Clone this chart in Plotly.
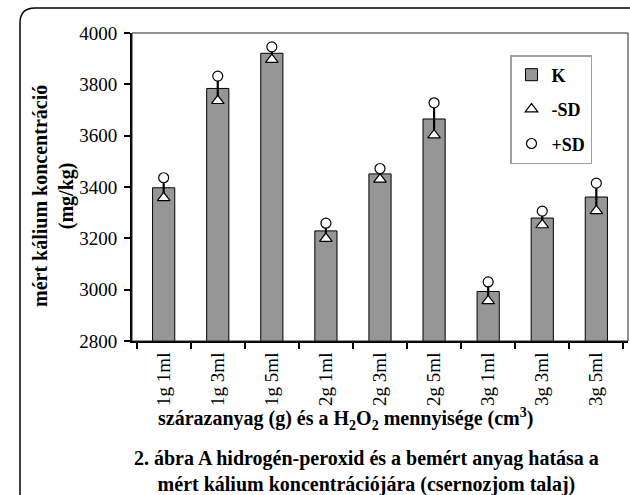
import plotly.graph_objects as go

# Kálium koncentráció (mg/kg) mintánként, szórással
categories = ["1g 1ml", "1g 3ml", "1g 5ml", "2g 1ml", "2g 3ml", "2g 5ml", "3g 1ml", "3g 3ml", "3g 5ml"]
k_mean = [3397, 3784, 3921, 3229, 3451, 3665, 2993, 3279, 3361]
k_sd = [39, 48, 25, 30, 21, 63, 37, 27, 54]

minus_sd = [m - s for m, s in zip(k_mean, k_sd)]
plus_sd = [m + s for m, s in zip(k_mean, k_sd)]

y_ticks = [2800, 3000, 3200, 3400, 3600, 3800, 4000]

FONT = '"Liberation Serif", "Times New Roman", serif'
W_PX, H_PX = 630, 495
L, R, T, B = 132, 2, 33, 154
PW, PH = W_PX - L - R, H_PX - T - B


def px(x):
    return (x - L) / PW


def py(y):
    return (H_PX - B - y) / PH


fig = go.Figure()

fig.add_trace(go.Bar(
    x=categories, y=k_mean, name="<b>K</b>",
    marker=dict(color="#969696", line=dict(color="black", width=1)),
    width=0.41,
    error_y=dict(type="data", array=k_sd, visible=True, thickness=2.2, width=0, color="black"),
    legendgroup="a",
))
fig.add_trace(go.Scatter(
    x=categories, y=minus_sd, mode="markers", name="<b>-SD</b>",
    marker=dict(symbol="triangle-up", size=11, color="white", line=dict(color="black", width=1.2)),
    legendgroup="b",
))
fig.add_trace(go.Scatter(
    x=categories, y=plus_sd, mode="markers", name="<b>+SD</b>",
    marker=dict(symbol="circle", size=10, color="white", line=dict(color="black", width=1.2)),
    legendgroup="c",
))

# plot area border and outer rounded frame (top and left sides)
r = 15
frame_line = dict(color="black", width=1.5)
shapes = [
    dict(type="rect", xref="paper", yref="paper", x0=0, x1=1, y0=0, y1=1,
         line=dict(color="#222", width=1), layer="above"),
    dict(type="line", xref="paper", yref="paper", x0=px(20), x1=px(20), y0=py(497), y1=py(8 + r),
         line=frame_line),
    dict(type="line", xref="paper", yref="paper", x0=px(20 + r), x1=px(632), y0=py(8), y1=py(8),
         line=frame_line),
    dict(type="path", xref="paper", yref="paper",
         path=f"M {px(20)} {py(8 + r)} Q {px(20)} {py(8)} {px(20 + r)} {py(8)}",
         line=frame_line, fillcolor="rgba(0,0,0,0)"),
]

annotations = [
    dict(text="<b>mért kálium koncentráció<br>(mg/kg)</b>", textangle=-90,
         xref="paper", yref="paper", x=px(53), y=py(196), xanchor="center", yanchor="middle",
         showarrow=False, font=dict(family=FONT, size=20, color="black"), align="center"),
    dict(text="<b>szárazanyag (g) és a H<sub>2</sub>O<sub>2</sub> mennyisége (cm<sup>3</sup>)</b>",
         xref="paper", yref="paper", x=px(345), y=py(419), xanchor="center", yanchor="middle",
         showarrow=False, font=dict(family=FONT, size=20, color="black")),
    dict(text="<b>2. ábra A hidrogén-peroxid és a bemért anyag hatása a<br>mért kálium koncentrációjára (csernozjom talaj)</b>",
         xref="paper", yref="paper", x=px(366), y=py(471), xanchor="center", yanchor="middle",
         showarrow=False, font=dict(family=FONT, size=20, color="black"), align="center"),
]

fig.update_layout(
    width=W_PX, height=H_PX,
    margin=dict(l=L, r=R, t=T, b=B, pad=0),
    paper_bgcolor="white", plot_bgcolor="white",
    font=dict(family=FONT, size=18, color="black"),
    showlegend=True,
    legend=dict(
        x=px(510), y=py(55), xanchor="left", yanchor="top",
        bgcolor="white", bordercolor="#a0a0a0", borderwidth=1.5,
        font=dict(family=FONT, size=18, color="black"),
        traceorder="grouped", tracegroupgap=8,
    ),
    shapes=shapes,
    annotations=annotations,
    bargap=0.5,
)

fig.update_xaxes(
    type="category", categoryorder="array", categoryarray=categories,
    showline=True, linecolor="black", linewidth=2,
    ticks="outside", tickson="boundaries", ticklen=6, tickcolor="black", tickwidth=1.5,
    tickangle=-90, tickfont=dict(family=FONT, size=19), ticklabelstandoff=2,
    showgrid=False, zeroline=False,
)
fig.update_yaxes(
    range=[2800, 4000], tickvals=y_ticks,
    showline=True, linecolor="black", linewidth=2,
    ticks="outside", ticklen=6, tickcolor="black", tickwidth=1.5,
    tickfont=dict(family=FONT, size=19), ticklabelstandoff=3,
    showgrid=False, zeroline=False,
)

fig.write_html("out.html")
